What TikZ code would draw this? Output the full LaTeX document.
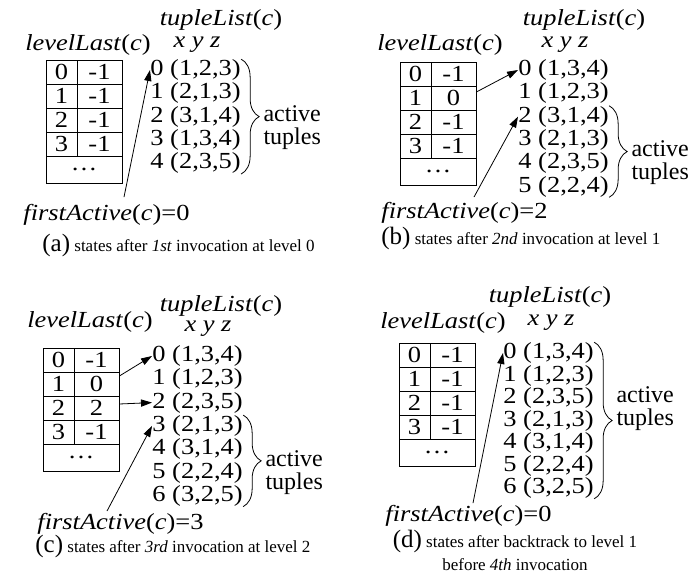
\documentclass[tikz,border=0pt]{standalone}
\usepackage{fontspec}
\setmainfont{Liberation Serif}[FakeStretch=1.15]
\newfontfamily\plainfamily{Liberation Serif}
\usetikzlibrary{calc}
\usetikzlibrary{arrows.meta}
\usetikzlibrary{decorations.pathreplacing}

\newcommand{\ListName}{\textit{tupleList}(\textit{c})}
\newcommand{\LastName}{\textit{levelLast}(\textit{c})}
\newcommand{\FirstName}{\textit{firstActive}(\textit{c})}
\newcommand{\capfont}{\plainfamily\fontsize{8.5}{11}\selectfont}
\newcommand{\tagfont}{\plainfamily\fontsize{12.5}{12}\selectfont}

\tikzset{
  keycell/.style={draw, inner sep=0pt, minimum width=15.5pt, minimum height=12pt},
  valcell/.style={draw, inner sep=0pt, minimum width=22.5pt, minimum height=12pt},
  dotcell/.style={draw, inner sep=0pt, minimum width=38pt, minimum height=13.5pt},
  entry/.style={anchor=west, inner sep=0pt},
  ttl/.style={inner sep=0pt},
  tuplebrace/.style={decorate, decoration={brace, amplitude=9pt}},
  active/.style={align=center, inner sep=0pt, anchor=west, font=\plainfamily\fontsize{12}{11.5}\selectfont}
}

\begin{document}
\begin{tikzpicture}[x=0.5pt, y=-0.5pt, >={Stealth[length=5.5pt, width=3.6pt, inset=0pt]}, font=\fontsize{11.5}{11.5}\selectfont]
\useasboundingbox (0,0) rectangle (696,572);

% (a) after 1st invocation
\begin{scope}[shift={(46,60)}]
\foreach \k/\v [count=\i from 0] in {0/-1,1/-1,2/-1,3/-1} {
 \node[keycell] (a-k\i) at (15.5,12+24*\i) {\k};
 \node[valcell] (a-v\i) at (53.5,12+24*\i) {\v};
}
\node[dotcell] (a-dots) at (38,109.5) {\dots};
\foreach \t [count=\i from 0] in {{(1,2,3)},{(2,1,3)},{(3,1,4)},{(1,3,4)},{(2,3,5)}}
 \node[entry] (a\i) at (104,10+23.3*\i) {\i\ \t};
\node[ttl] (a-title) at (175,-40) {\ListName};
\node[ttl] (a-last) at (42,-15) {\LastName};
\node[ttl] (a-xyz) at (151,-15) {\textit{x y z}};
\node[ttl, anchor=west] (a-first) at (-23,155) {\FirstName=0};
\node[ttl, anchor=west] (a-cap) at (-4,185) {\tagfont (a)\capfont\ states after \textit{1st} invocation at level 0};
\draw[tuplebrace] (a0.north east) -- (a4.south east)
 node[active, midway, xshift=11pt, yshift=-5.75pt] (a-act) {active\\tuples};
\draw[->] ($(a-first.north west)+(101,-7)$) -- (a0.west);
\end{scope}

% (b) after 2nd invocation
\begin{scope}[shift={(400,62)}]
\foreach \k/\v [count=\i from 0] in {0/-1,1/0,2/-1,3/-1} {
 \node[keycell] (b-k\i) at (15.5,12+24*\i) {\k};
 \node[valcell] (b-v\i) at (53.5,12+24*\i) {\v};
}
\node[dotcell] (b-dots) at (38,109.5) {\dots};
\foreach \t [count=\i from 0] in {{(1,3,4)},{(1,2,3)},{(3,1,4)},{(2,1,3)},{(2,3,5)},{(2,2,4)}}
 \node[entry] (b\i) at (118,8+23.3*\i) {\i\ \t};
\node[ttl] (b-title) at (184,-42) {\ListName};
\node[ttl] (b-last) at (40,-17) {\LastName};
\node[ttl] (b-xyz) at (165,-17) {\textit{x y z}};
\node[ttl, anchor=west] (b-first) at (-19,151) {\FirstName=2};
\node[ttl, anchor=west] (b-cap) at (-19,176) {\tagfont (b)\capfont\ states after \textit{2nd} invocation at level 1};
\draw[tuplebrace] (b2.north east) -- (b5.south east)
 node[active, midway, xshift=11pt, yshift=-5.75pt] (b-act) {active\\tuples};
\draw[->] ([yshift=3pt]b-v1.east) -- (b0.west);
\draw[->] ($(b-first.north west)+(93,-5)$) -- (b2.west);
\end{scope}

% (c) after 3rd invocation
\begin{scope}[shift={(43,348)}]
\foreach \k/\v [count=\i from 0] in {0/-1,1/0,2/2,3/-1} {
 \node[keycell] (c-k\i) at (15.5,12+24*\i) {\k};
 \node[valcell] (c-v\i) at (53.5,12+24*\i) {\v};
}
\node[dotcell] (c-dots) at (38,109.5) {\dots};
\foreach \t [count=\i from 0] in {{(1,3,4)},{(1,2,3)},{(2,3,5)},{(2,1,3)},{(3,1,4)},{(2,2,4)},{(3,2,5)}}
 \node[entry] (c\i) at (109,8+23.3*\i) {\i\ \t};
\node[ttl] (c-title) at (178,-42) {\ListName};
\node[ttl] (c-last) at (47,-26) {\LastName};
\node[ttl] (c-xyz) at (165,-19) {\textit{x y z}};
\node[ttl, anchor=west] (c-first) at (-6,176) {\FirstName=3};
\node[ttl, anchor=west] (c-cap) at (-8,198) {\tagfont (c)\capfont\ states after \textit{3rd} invocation at level 2};
\draw[tuplebrace] (c3.north east) -- (c6.south east)
 node[active, midway, xshift=11pt, yshift=-5.75pt] (c-act) {active\\tuples};
\draw[->] ([yshift=4pt]c-v1.east) -- (c0.west);
\draw[->] ([yshift=2pt]c-v2.east) -- (c2.west);
\draw[->] ($(c-first.north west)+(70,-2)$) -- (c3.west);
\end{scope}

% (d) after backtrack to level 1
\begin{scope}[shift={(399,343)}]
\foreach \k/\v [count=\i from 0] in {0/-1,1/-1,2/-1,3/-1} {
 \node[keycell] (d-k\i) at (15.5,12+24*\i) {\k};
 \node[valcell] (d-v\i) at (53.5,12+24*\i) {\v};
}
\node[dotcell] (d-dots) at (38,109.5) {\dots};
\foreach \t [count=\i from 0] in {{(1,3,4)},{(1,2,3)},{(2,3,5)},{(2,1,3)},{(3,1,4)},{(2,2,4)},{(3,2,5)}}
 \node[entry] (d\i) at (104,10+22.5*\i) {\i\ \t};
\node[ttl] (d-title) at (151,-46) {\ListName};
\node[ttl] (d-last) at (44,-20) {\LastName};
\node[ttl] (d-xyz) at (152,-20) {\textit{x y z}};
\node[ttl, anchor=west] (d-first) at (-14,173) {\FirstName=0};
\node[ttl, align=center] (d-cap) at (116,207) {\tagfont (d)\capfont\ states after backtrack to level 1\\\capfont before \textit{4th} invocation};
\draw[tuplebrace] (d0.north east) -- (d6.south east)
 node[active, midway, xshift=11pt, yshift=5.75pt] (d-act) {active\\tuples};
\draw[->] ($(d-first.north west)+(88,-2)$) -- (d0.west);
\end{scope}
\end{tikzpicture}
\end{document}
